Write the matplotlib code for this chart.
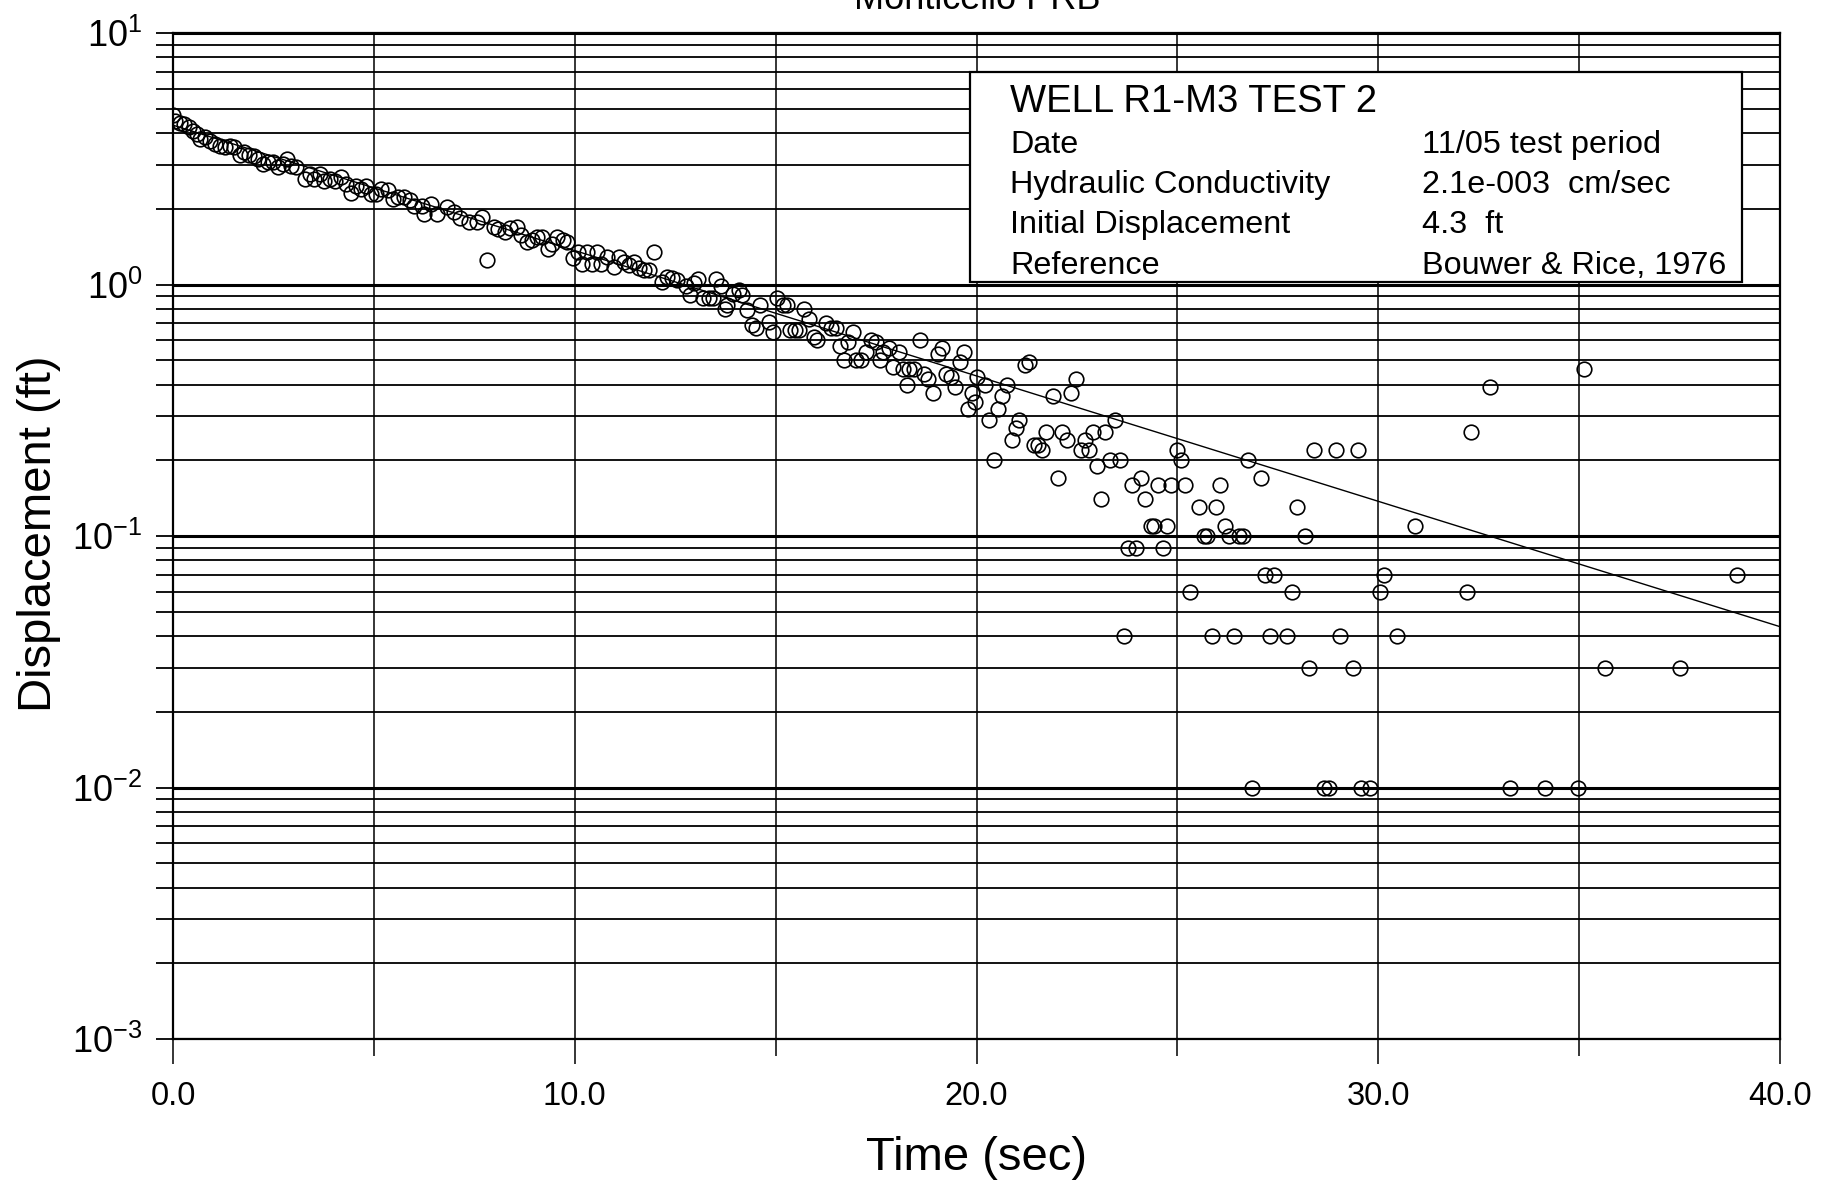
import matplotlib
matplotlib.use('Agg')
import matplotlib.pyplot as plt
from matplotlib.ticker import LogLocator, MultipleLocator, NullFormatter, FuncFormatter
from matplotlib.patches import Rectangle
import numpy as np

plt.rcParams['font.family'] = ['Liberation Sans', 'DejaVu Sans']
plt.rcParams['mathtext.fontset'] = 'custom'
plt.rcParams['mathtext.rm'] = 'Liberation Sans'
plt.rcParams['mathtext.it'] = 'Liberation Sans'

# Données : temps (s) et rabattement (ft)
t_obs = [
    0.00, 0.06, 0.17, 0.27, 0.39, 0.50, 0.60, 0.66, 0.79, 0.91,
    1.04, 1.16, 1.29, 1.41, 1.53, 1.66, 1.77, 1.88, 2.01, 2.11,
    2.24, 2.36, 2.49, 2.61, 2.74, 2.84, 2.94, 3.07, 3.28, 3.40,
    3.52, 3.65, 3.77, 3.90, 4.02, 4.17, 4.31, 4.44, 4.56, 4.68,
    4.81, 4.93, 5.06, 5.18, 5.35, 5.47, 5.60, 5.76, 5.89, 6.01,
    6.20, 6.24, 6.41, 6.57, 6.82, 6.99, 7.15, 7.36, 7.57, 7.69,
    7.82, 7.98, 8.10, 8.27, 8.40, 8.56, 8.65, 8.81, 8.94, 9.06,
    9.19, 9.34, 9.44, 9.56, 9.70, 9.81, 9.95, 10.08, 10.18, 10.31,
    10.43, 10.56, 10.66, 10.80, 10.97, 11.10, 11.22, 11.34, 11.47, 11.59,
    11.72, 11.84, 11.97, 12.17, 12.30, 12.42, 12.55, 12.76,
    12.88, 12.96, 13.07, 13.20, 13.33, 13.43, 13.52, 13.63, 13.73, 13.80,
    13.94, 14.08, 14.17, 14.29, 14.40, 14.50, 14.61, 14.83, 14.94, 15.04,
    15.18, 15.29, 15.37, 15.48, 15.58, 15.70, 15.83, 15.96, 16.04, 16.25,
    16.37, 16.50, 16.60, 16.70, 16.81, 16.93, 16.99, 17.12, 17.24, 17.37,
    17.49, 17.59, 17.67, 17.82, 17.92, 18.06, 18.16, 18.26, 18.32, 18.45,
    18.59, 18.69, 18.80, 18.92, 19.03, 19.15, 19.24, 19.36, 19.47, 19.58,
    19.70, 19.78, 19.90, 19.97, 20.02,
    20.20, 20.31, 20.43, 20.54, 20.64, 20.76, 20.88, 20.98, 21.07, 21.20,
    21.30, 21.43, 21.53, 21.63, 21.74, 21.91, 22.02, 22.12, 22.25, 22.35,
    22.47, 22.59, 22.69, 22.81, 22.90, 23.00, 23.11, 23.20, 23.33, 23.45,
    23.56, 23.67, 23.76, 23.88, 23.98, 24.10, 24.20, 24.35, 24.43, 24.53,
    24.64, 24.75, 24.85, 24.98, 25.09, 25.19, 25.31, 25.53, 25.66, 25.74,
    25.86, 25.97, 26.07, 26.18, 26.28, 26.41, 26.53, 26.64, 26.75, 26.85,
    27.07, 27.17, 27.30, 27.40, 27.73, 27.85, 27.97, 28.18, 28.28, 28.40,
    28.66, 28.78, 28.95, 29.05, 29.38, 29.50, 29.57, 29.80, 30.04, 30.15,
    30.47, 30.92, 32.20, 32.32, 32.77, 33.27, 34.15, 34.98, 35.13, 35.65,
    37.50, 38.93,
]
h_obs = [
    4.73, 4.45, 4.40, 4.33, 4.24, 4.09, 3.98, 3.78, 3.85, 3.73,
    3.62, 3.57, 3.53, 3.57, 3.51, 3.26, 3.36, 3.26, 3.23, 3.16,
    3.02, 3.06, 3.06, 2.93, 3.02, 3.16, 2.97, 2.93, 2.63, 2.75,
    2.63, 2.75, 2.59, 2.63, 2.59, 2.67, 2.51, 2.32, 2.47, 2.40,
    2.47, 2.29, 2.29, 2.40, 2.38, 2.19, 2.22, 2.22, 2.16, 2.06,
    2.06, 1.91, 2.09, 1.91, 2.03, 1.94, 1.83, 1.77, 1.77, 1.85,
    1.25, 1.69, 1.66, 1.62, 1.67, 1.69, 1.57, 1.48, 1.50, 1.54,
    1.54, 1.39, 1.45, 1.54, 1.50, 1.48, 1.27, 1.35, 1.21, 1.35,
    1.21, 1.35, 1.21, 1.29, 1.17, 1.29, 1.23, 1.19, 1.23, 1.16,
    1.14, 1.14, 1.35, 1.02, 1.07, 1.06, 1.04, 0.99,
    0.91, 1.01, 1.05, 0.88, 0.88, 0.88, 1.05, 0.99, 0.80, 0.83,
    0.92, 0.95, 0.91, 0.79, 0.69, 0.67, 0.83, 0.71, 0.65, 0.88,
    0.83, 0.83, 0.66, 0.66, 0.66, 0.80, 0.73, 0.62, 0.60, 0.70,
    0.67, 0.67, 0.57, 0.50, 0.59, 0.65, 0.50, 0.50, 0.54, 0.60,
    0.59, 0.50, 0.54, 0.56, 0.47, 0.54, 0.46, 0.40, 0.46, 0.46,
    0.60, 0.44, 0.42, 0.37, 0.53, 0.56, 0.44, 0.43, 0.39, 0.49,
    0.54, 0.32, 0.37, 0.34, 0.43,
    0.40, 0.29, 0.20, 0.32, 0.36, 0.40, 0.24, 0.27, 0.29, 0.48,
    0.49, 0.23, 0.23, 0.22, 0.26, 0.36, 0.17, 0.26, 0.24, 0.37,
    0.42, 0.22, 0.24, 0.22, 0.26, 0.19, 0.14, 0.26, 0.20, 0.29,
    0.20, 0.04, 0.09, 0.16, 0.09, 0.17, 0.14, 0.11, 0.11, 0.16,
    0.09, 0.11, 0.16, 0.22, 0.20, 0.16, 0.06, 0.13, 0.10, 0.10,
    0.04, 0.13, 0.16, 0.11, 0.10, 0.04, 0.10, 0.10, 0.20, 0.01,
    0.17, 0.07, 0.04, 0.07, 0.04, 0.06, 0.13, 0.10, 0.03, 0.22,
    0.01, 0.01, 0.22, 0.04, 0.03, 0.22, 0.01, 0.01, 0.06, 0.07,
    0.04, 0.11, 0.06, 0.26, 0.39, 0.01, 0.01, 0.01, 0.46, 0.03,
    0.03, 0.07,
]

# Droite d'ajustement Bouwer & Rice (extrémités)
fit_t = [0.0, 40.0]
fit_h = [4.3, 0.0436]

info_labels = ['Date', 'Hydraulic Conductivity', 'Initial Displacement', 'Reference']
info_values = ['11/05 test period', '2.1e-003  cm/sec', '4.3  ft', 'Bouwer & Rice, 1976']

fig = plt.figure(figsize=(18.34, 11.86), dpi=100)
ax = fig.add_axes([173 / 1834, 1 - 1039 / 1186, 1607 / 1834, 1006 / 1186])
ax.set_yscale('log')
ax.set_xlim(0, 40)
ax.set_ylim(1e-3, 10)

ax.plot(t_obs, h_obs, 'o', mfc='none', mec='black', ms=10.5, mew=1.2, zorder=3)
ax.plot(fit_t, fit_h, color='black', lw=1.0, zorder=3)

# grille
ax.xaxis.set_major_locator(MultipleLocator(10))
ax.xaxis.set_minor_locator(MultipleLocator(5))
ax.yaxis.set_major_locator(LogLocator(base=10, numticks=10))
ax.yaxis.set_minor_locator(LogLocator(base=10, subs=np.arange(2, 10), numticks=20))
ax.yaxis.set_minor_formatter(NullFormatter())
ax.yaxis.set_major_formatter(FuncFormatter(lambda v, p: '$10^{%d}$' % int(round(np.log10(v)))))
ax.xaxis.set_major_formatter(FuncFormatter(lambda v, p: '%.1f' % v))

ax.grid(which='major', axis='y', color='black', lw=2.2)
ax.grid(which='minor', axis='y', color='black', lw=1.3)
ax.grid(which='both', axis='x', color='black', lw=1.1)
ax.set_axisbelow(True)

ax.tick_params(axis='y', which='both', direction='out', length=12, width=1.3, pad=10, labelsize=26)
ax.tick_params(axis='x', which='major', direction='out', length=18, width=1.1, pad=12, labelsize=23.5)
ax.tick_params(axis='x', which='minor', direction='out', length=12, width=1.1)
for s in ax.spines.values():
    s.set_linewidth(1.6)

fig.text(0.5325, 1 - 1158 / 1186, 'Time (sec)', ha='center', va='center', fontsize=34)
fig.text(0.021, 0.55, 'Displacement (ft)', ha='center', va='center', rotation=90, fontsize=34)
fig.text(0.5327, 1 - 9 / 1186, 'Monticello PRB', ha='center', va='baseline', fontsize=26)

# encadré d'information
x0, x1 = (969.6 - 173) / 1607, (1741.5 - 173) / 1607
y0, y1 = 1 - (282 - 33) / 1006, 1 - (72.5 - 33) / 1006
ax.add_patch(Rectangle((x0, y0), x1 - x0, y1 - y0, transform=ax.transAxes,
                       facecolor='white', edgecolor='black', lw=1.6, zorder=5))
ax.text(0.5208, 1 - (101.8 - 33) / 1006, 'WELL R1-M3 TEST 2', transform=ax.transAxes,
        fontsize=27.5, va='center', ha='left', zorder=6)
rows_y = [145.0, 184.8, 224.6, 265.5]
for lab, val, yy in zip(info_labels, info_values, rows_y):
    ax.text(0.5208, 1 - (yy - 33) / 1006, lab, transform=ax.transAxes,
            fontsize=23.3, va='center', ha='left', zorder=6)
    ax.text(0.7772, 1 - (yy - 33) / 1006, val, transform=ax.transAxes,
            fontsize=23.3, va='center', ha='left', zorder=6)

fig.savefig('out.png', dpi=100)
